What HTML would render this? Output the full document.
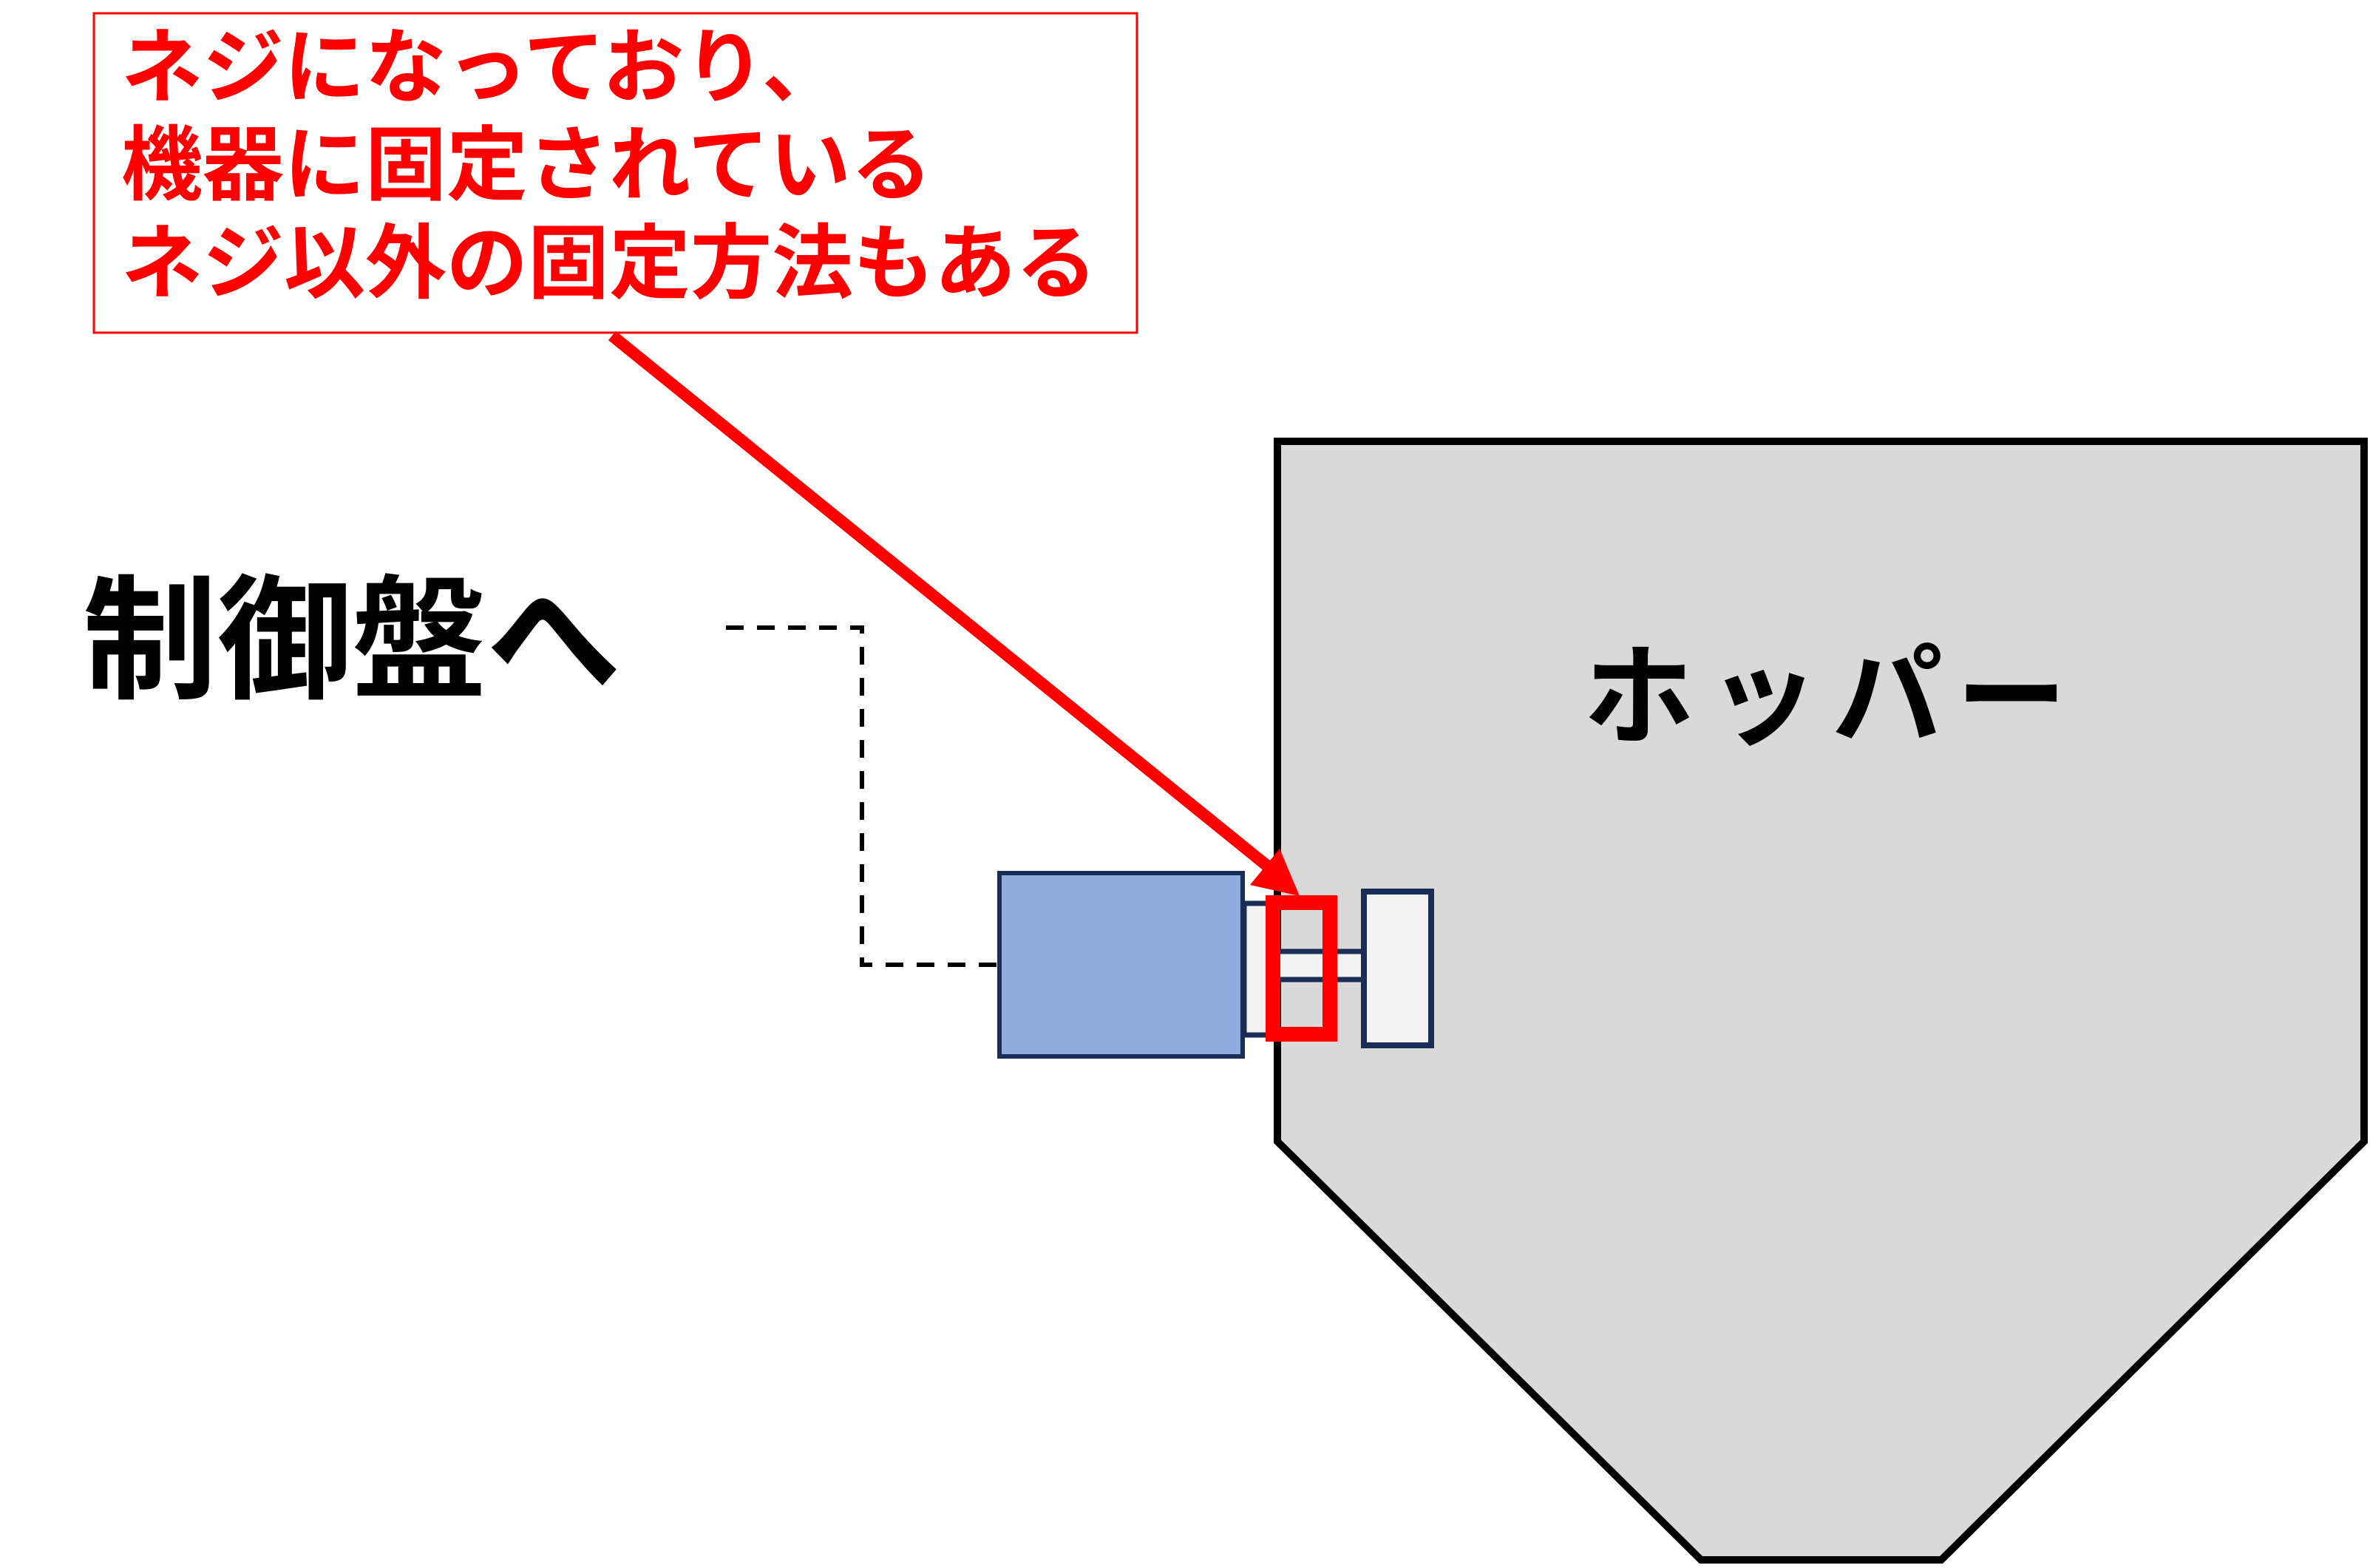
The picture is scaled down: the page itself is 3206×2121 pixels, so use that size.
<!DOCTYPE html>
<html><head><meta charset="utf-8"><style>
html,body{margin:0;padding:0;background:#fff;}
svg{display:block;}
text{font-family:"Liberation Sans","Noto Sans CJK JP",sans-serif;font-weight:bold;}
</style></head><body>
<svg width="3206" height="2121" viewBox="0 0 3206 2121" xmlns="http://www.w3.org/2000/svg">
<polygon points="1728,597 3198,597 3198,1544 2626,2110 2301,2110 1728,1544" fill="#d9d9d9" stroke="#000" stroke-width="10"/>
<text x="2142" y="943" font-size="150" letter-spacing="18" dominant-baseline="central" fill="#000">ホッパー</text>
<text x="112" y="867" font-size="182" dominant-baseline="central" fill="#000">制御盤へ</text>
<polyline points="982,849 1166,849 1166,1305 1350,1305" fill="none" stroke="#000" stroke-width="6" stroke-dasharray="24,18"/>
<rect x="1352" y="1181" width="329" height="248" fill="#8faadc" stroke="#1a2d54" stroke-width="6"/>
<rect x="1683" y="1222" width="40" height="178" fill="#f2f2f2" stroke="#1a2d54" stroke-width="7"/>
<rect x="1723" y="1287" width="122" height="38" fill="#f2f2f2" stroke="#1a2d54" stroke-width="7"/>
<rect x="1845" y="1206" width="91" height="208" fill="#f2f2f2" stroke="#1a2d54" stroke-width="8"/>
<rect x="1722" y="1221" width="77" height="178" fill="none" stroke="#ff0000" stroke-width="20"/>
<rect x="127" y="18" width="1411" height="432" fill="#fff" stroke="#ff0000" stroke-width="3"/>
<line x1="828" y1="454" x2="1725" y2="1180" stroke="#ff0000" stroke-width="16"/>
<polygon points="1758,1212 1731,1148 1691,1197" fill="#ff0000"/>
<g fill="#ff0000" font-size="110" dominant-baseline="central">
<text x="164" y="92">ネジになっており、</text>
<text x="164" y="224">機器に固定されている</text>
<text x="164" y="357">ネジ以外の固定方法もある</text>
</g>
</svg>
</body></html>
